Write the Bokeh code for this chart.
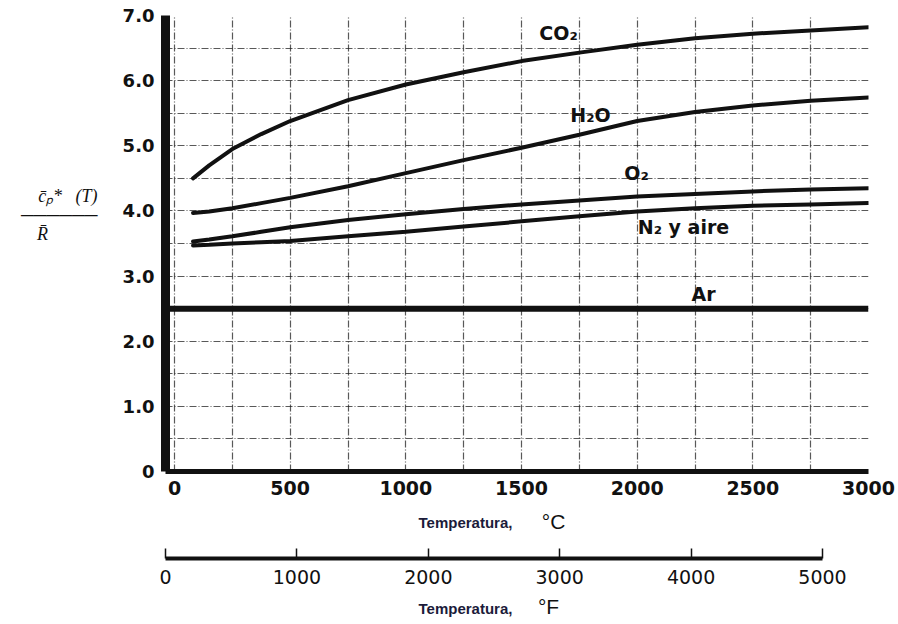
from bokeh.plotting import figure
from bokeh.layouts import column
from bokeh.models import (Range1d, FixedTicker, SingleIntervalTicker, Label)
from bokeh.embed import file_html
from bokeh.resources import INLINE

# ---- data ----
temp_c = [80, 150, 250, 375, 500, 750, 1000, 1250, 1500, 1750, 2000, 2250, 2500, 2750, 3000]
co2 = [4.50, 4.70, 4.95, 5.18, 5.38, 5.70, 5.94, 6.13, 6.30, 6.43, 6.55, 6.65, 6.72, 6.77, 6.82]
h2o = [3.97, 3.99, 4.04, 4.12, 4.20, 4.38, 4.58, 4.78, 4.97, 5.17, 5.38, 5.52, 5.62, 5.69, 5.74]
o2 = [3.53, 3.56, 3.61, 3.68, 3.75, 3.86, 3.95, 4.03, 4.10, 4.16, 4.22, 4.26, 4.30, 4.33, 4.35]
n2 = [3.47, 3.48, 3.50, 3.52, 3.54, 3.61, 3.68, 3.76, 3.84, 3.92, 3.99, 4.04, 4.08, 4.10, 4.12]
ar_temp = [-39, 3000]
ar = [2.5, 2.5]

c_ticks = [0, 500, 1000, 1500, 2000, 2500, 3000]
y_ticks = [0, 1, 2, 3, 4, 5, 6, 7]
y_tick_labels = ["0", "1.0", "2.0", "3.0", "4.0", "5.0", "6.0", "7.0"]
f_ticks = [0, 1000, 2000, 3000, 4000, 5000]

x_min, x_max = -39, 3000
# °F scale as printed beneath the °C scale
f_min, f_max = 0, 5350

INK = "#111111"
TITLE_INK = "#1b1b3a"
LEFT, RIGHT, FW = 165, 30, 703
NB = "\u00a0"

# ================= main chart =================
p = figure(frame_width=FW, frame_height=456,
           x_range=Range1d(x_min, x_max), y_range=Range1d(0, 7),
           output_backend="svg", toolbar_location=None,
           min_border_left=LEFT, min_border_top=15, min_border_right=RIGHT,
           min_border_bottom=34)
p.outline_line_color = None

p.xgrid.ticker = SingleIntervalTicker(interval=250)
p.ygrid.ticker = SingleIntervalTicker(interval=0.5)
for g in (p.xgrid, p.ygrid):
    g.grid_line_color = "#222222"
    g.grid_line_alpha = 0.75
    g.grid_line_width = 1.2
    g.grid_line_dash = "7 2 1 2"

ya = p.yaxis[0]
ya.ticker = FixedTicker(ticks=y_ticks)
ya.major_label_overrides = {t: l for t, l in zip(y_ticks, y_tick_labels)}
ya.axis_line_width = 9
ya.axis_line_color = INK
ya.major_tick_out = 0
ya.major_tick_in = 0
ya.minor_tick_out = 0
ya.minor_tick_in = 0
ya.major_label_standoff = 11
ya.major_label_text_font = "DejaVu Sans"
ya.major_label_text_font_style = "bold"
ya.major_label_text_font_size = "18px"
ya.major_label_text_color = INK
# fraction  c̄p*(T) / R̄  written on stacked lines
ya.axis_label = ("c\u0304\u209a*" + NB * 3 + "(T)\n"
                 + "\u2500" * 6 + "\n"
                 + "R\u0304" + NB * 11 + "\n" + NB + "\n" + NB + "\n" + NB)
ya.axis_label_orientation = "horizontal"
ya.axis_label_standoff = 22
ya.axis_label_text_font = "Liberation Serif"
ya.axis_label_text_font_style = "italic"
ya.axis_label_text_font_size = "18px"
ya.axis_label_text_line_height = 0.95
ya.axis_label_text_color = INK

xa = p.xaxis[0]
xa.ticker = FixedTicker(ticks=c_ticks)
xa.axis_line_width = 5
xa.axis_line_color = INK
xa.major_tick_out = 0
xa.major_tick_in = 0
xa.minor_tick_out = 0
xa.minor_tick_in = 0
xa.major_label_standoff = 9
xa.major_label_text_font = "DejaVu Sans"
xa.major_label_text_font_style = "bold"
xa.major_label_text_font_size = "19px"
xa.major_label_text_color = INK

for vals in (co2, h2o, o2, n2):
    p.line(temp_c, vals, line_width=4, line_color=INK, line_cap="round")
p.line(ar_temp, ar, line_width=6, line_color=INK)


def lab(fig, x, y, text, size="19px", font="DejaVu Sans", style="bold", color=INK):
    fig.add_layout(Label(x=x, y=y, text=text, text_align="center",
                         text_baseline="middle", text_font=font,
                         text_font_style=style, text_font_size=size,
                         text_color=color))


lab(p, 1660, 6.73, "CO\u2082")
lab(p, 1798, 5.48, "H\u2082O")
lab(p, 1997, 4.58, "O\u2082")
lab(p, 2200, 3.75, "N\u2082 y aire")
lab(p, 2287, 2.72, "Ar")

# ================= °C title + °F scale =================
pf = figure(frame_width=FW, frame_height=53,
            x_range=Range1d(f_min, f_max), y_range=Range1d(0, 1),
            output_backend="svg", toolbar_location=None,
            y_axis_location=None,
            min_border_left=LEFT, min_border_top=0, min_border_right=RIGHT,
            min_border_bottom=34)
pf.outline_line_color = None
pf.grid.visible = False
fa = pf.xaxis[0]
fa.ticker = FixedTicker(ticks=f_ticks)
fa.bounds = (0, 5000)
fa.axis_line_width = 4
fa.axis_line_color = INK
fa.major_tick_in = 10
fa.major_tick_out = 0
fa.major_tick_line_width = 1.5
fa.major_tick_line_color = INK
fa.minor_tick_in = 0
fa.minor_tick_out = 0
fa.major_label_standoff = 11
fa.major_label_text_font = "DejaVu Sans"
fa.major_label_text_font_size = "19px"
fa.major_label_text_color = INK

lab(pf, 2283, 0.68, "Temperatura,", size="15px", font="Liberation Sans", color=TITLE_INK)
lab(pf, 2953, 0.70, "\u00b0C", size="21px", font="Liberation Sans", style="normal")

# ================= °F title =================
pt = figure(frame_width=FW, frame_height=32,
            x_range=Range1d(f_min, f_max), y_range=Range1d(0, 1),
            output_backend="svg", toolbar_location=None,
            x_axis_location=None, y_axis_location=None,
            min_border_left=LEFT, min_border_top=0, min_border_right=RIGHT,
            min_border_bottom=0)
pt.outline_line_color = None
pt.grid.visible = False
lab(pt, 2283, 0.50, "Temperatura,", size="15px", font="Liberation Sans", color=TITLE_INK)
lab(pt, 2915, 0.55, "\u00b0F", size="21px", font="Liberation Sans", style="normal")

layout = column(p, pf, pt, spacing=0)
open("out.html", "w").write(file_html(layout, INLINE))
